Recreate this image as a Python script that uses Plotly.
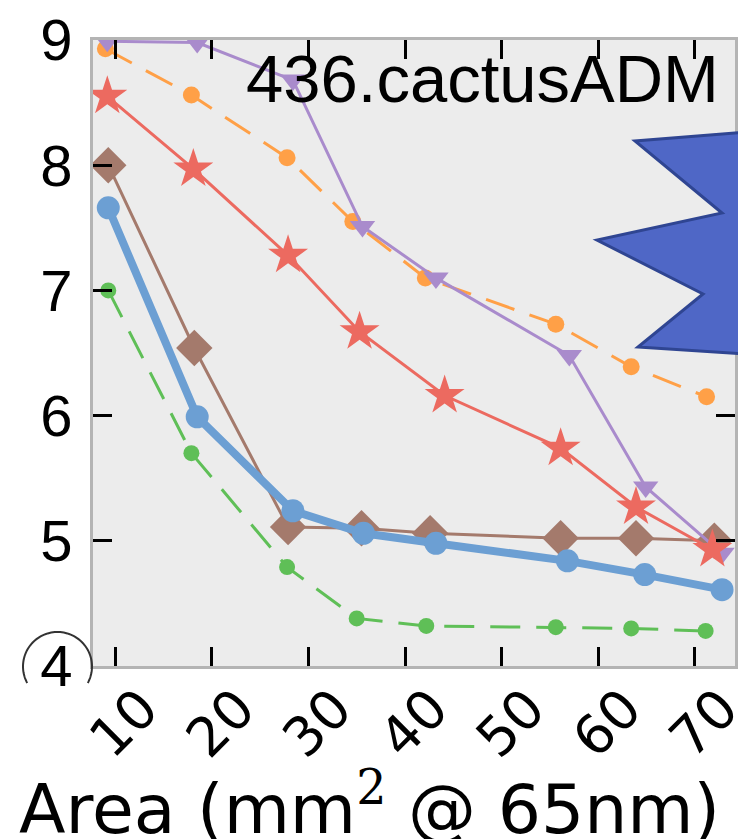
import numpy as np
import plotly.graph_objects as go

# ---------------- data ----------------
blue_x = [9.3, 18.5, 28.4, 35.7, 43.2, 56.8, 64.8, 72.8]
blue_y = [7.66, 5.99, 5.24, 5.06, 4.98, 4.84, 4.73, 4.61]

brown_x = [9.3, 18.2, 27.9, 35.5, 42.6, 56.1, 63.9, 72.0]
brown_y = [8.00, 6.54, 5.11, 5.10, 5.06, 5.02, 5.02, 5.00]

green_x = [9.3, 17.9, 27.8, 35.0, 42.2, 55.6, 63.4, 71.1]
green_y = [7.00, 5.70, 4.79, 4.38, 4.32, 4.31, 4.30, 4.28]

orange_x = [9.0, 17.9, 27.8, 34.6, 42.1, 55.6, 63.4, 71.2]
orange_y = [8.93, 8.56, 8.06, 7.55, 7.10, 6.73, 6.39, 6.15]

purple_x = [9.2, 18.5, 28.4, 35.6, 43.2, 57.0, 64.9, 72.8]
purple_y = [8.99, 8.98, 8.68, 7.51, 7.10, 6.48, 5.43, 4.90]

red_x = [9.2, 18.1, 27.9, 35.3, 44.1, 56.1, 63.9, 71.8]
red_y = [8.55, 7.97, 7.28, 6.67, 6.16, 5.74, 5.27, 4.93]

x_ticks = [10, 20, 30, 40, 50, 60, 70]
y_ticks = [4, 5, 6, 7, 8, 9]
title_text = "436.cactusADM"
x_title = "Area (mm<sup><span style='font-family:DejaVu Serif'>2</span></sup> @ 65nm)"

# ---------------- figure ----------------
W, H = 738, 839
L, R, T, B = 93, 3, 40, 173
PW, PH = W - L - R, H - T - B

fig = go.Figure()

def add(x, y, color, width, symbol, size, dash="solid"):
    fig.add_trace(go.Scatter(
        x=x, y=y, mode="lines+markers",
        line=dict(color=color, width=width, dash=dash),
        marker=dict(symbol=symbol, size=size, color=color, line=dict(width=0)),
        showlegend=False,
    ))

add(orange_x, orange_y, "#ffa047", 3, "circle", 17, "30px,16px")
add(green_x, green_y, "#5fbf57", 3, "circle", 16, "30px,16px")
add(brown_x, brown_y, "#a47a6c", 3, "diamond", 28)
add(purple_x, purple_y, "#a98bcc", 3, "triangle-down", 22)
add(red_x, red_y, "#ec6a60", 3, "star", 30)
add(blue_x, blue_y, "#6c9fd3", 8, "circle", 23)


def px2paper(px, py):
    return (px - L) / PW, (H - B - py) / PH

# blue star decoration
star_px = [(760, 131), (635, 141), (722, 213), (597, 240), (703, 294), (638, 347), (760, 355)]
pts = [px2paper(a, b) for a, b in star_px]
path = "M " + " L ".join(f"{a:.4f},{b:.4f}" for a, b in pts) + " Z"
shapes = [dict(type="path", xref="paper", yref="paper", path=path,
               fillcolor="#4f67c6", line=dict(color="#2f4592", width=3), layer="above")]

# partial circle around the "4" tick label (clipped at bottom)
cx, cy, r = 57.5, 666.5, 34.5
ybot = 683.0
a0 = np.arcsin((ybot - cy) / r)
angs = np.linspace(np.pi - a0, 2 * np.pi + a0, 80)
arc = [px2paper(cx + r * np.cos(t), cy + r * np.sin(t)) for t in angs]
arc_path = "M " + " L ".join(f"{a:.5f},{b:.5f}" for a, b in arc)
shapes.append(dict(type="path", xref="paper", yref="paper", path=arc_path,
                   line=dict(color="#333333", width=2)))

fig.update_layout(
    width=W, height=H,
    margin=dict(l=L, r=R, t=T, b=B, pad=0, autoexpand=False),
    paper_bgcolor="white",
    plot_bgcolor="#ececec",
    shapes=shapes,
    annotations=[
        dict(text=title_text, xref="paper", yref="paper",
             x=px2paper(721, 0)[0], y=px2paper(0, 78)[1],
             xanchor="right", yanchor="middle", showarrow=False,
             font=dict(family="Liberation Sans, Arial", size=67, color="black")),
        dict(text=x_title, xref="paper", yref="paper",
             x=px2paper(369, 0)[0], y=px2paper(0, 804)[1],
             xanchor="center", yanchor="middle", showarrow=False,
             font=dict(family="DejaVu Sans", size=68, color="black")),
    ],
)

fig.update_xaxes(
    range=[7.72, 74.14], tickvals=x_ticks, ticktext=[str(v) for v in x_ticks],
    ticks="inside", ticklen=19, tickwidth=2.5, tickcolor="black",
    showline=True, linecolor="#b4b4b4", linewidth=3, mirror="ticks",
    showgrid=False, zeroline=False, tickangle=-45, automargin=False,
    tickfont=dict(family="DejaVu Sans", size=54, color="black"),
    ticklabelstandoff=-14, ticklabelshift=27, ticklabeloverflow="allow",
)
fig.update_yaxes(
    range=[4, 9], tickvals=y_ticks, ticktext=[str(v) for v in y_ticks],
    ticks="inside", ticklen=19, tickwidth=2.5, tickcolor="black",
    showline=True, linecolor="#b4b4b4", linewidth=3, mirror="ticks",
    showgrid=False, zeroline=False, automargin=False,
    tickfont=dict(family="Liberation Sans, Arial", size=58, color="black"),
    ticklabelstandoff=6,
)

fig.write_html("out.html")
